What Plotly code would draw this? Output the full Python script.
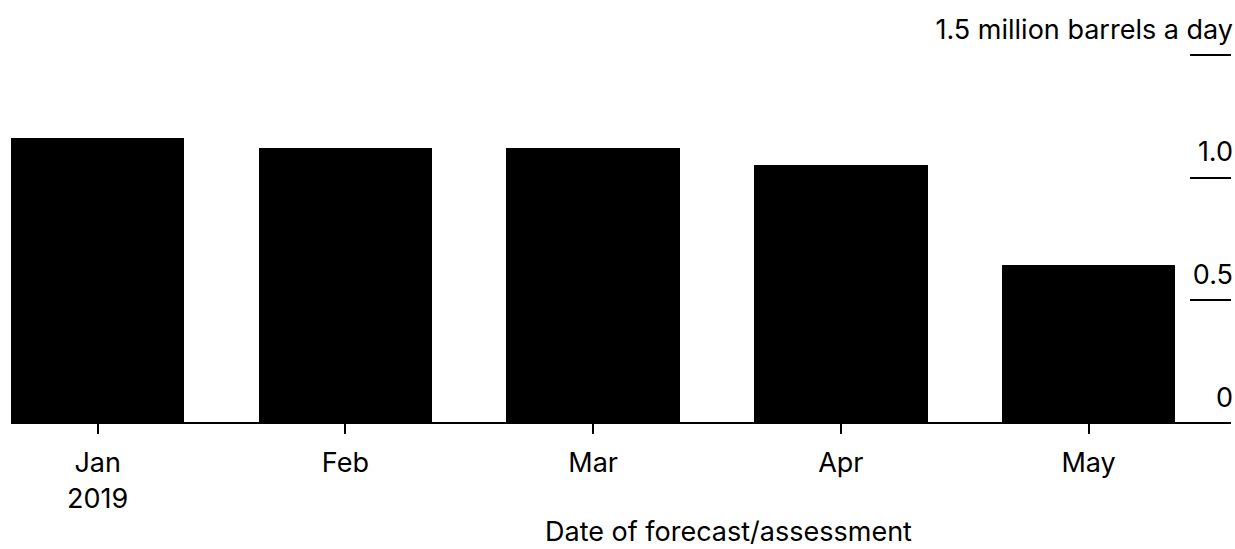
import plotly.graph_objects as go

categories = ["Jan<br>2019", "Feb", "Mar", "Apr", "May"]
values = [1.16, 1.12, 1.12, 1.05, 0.645]
y_tickvals = [0, 0.5, 1.0, 1.5]
y_ticktext = ["0", "0.5", "1.0", "1.5 million barrels a day"]
x_title = "Date of forecast/assessment"

FONT = "Inter"
FS = 27

# pixel geometry of plot area
TOP = 5
ZERO = 423
PX_PER_UNIT = (423 - 55) / 1.5
YMAX = 1.5 + (55 - TOP) / PX_PER_UNIT
PH = ZERO - TOP

fig = go.Figure()
fig.add_trace(go.Bar(
    x=list(range(len(categories))),
    y=values,
    width=0.7,
    marker=dict(color="#000000", line=dict(width=0)),
    hoverinfo="skip",
))

fig.update_layout(
    width=1235, height=549,
    margin=dict(l=11, r=4, t=TOP, b=549 - ZERO),
    paper_bgcolor="white", plot_bgcolor="white",
    showlegend=False,
    font=dict(family=FONT, size=FS, color="#000000"),
    bargap=0,
)

fig.update_xaxes(
    range=[-0.35, 4.575],
    tickmode="array",
    tickvals=list(range(len(categories))),
    ticktext=categories,
    ticks="outside", ticklen=10, tickwidth=1.5, tickcolor="#000000",
    ticklabelstandoff=6,
    ticklabeloverflow="allow",
    automargin=False,
    showline=False, showgrid=False, zeroline=False,
    tickfont=dict(family=FONT, size=FS, color="#000000"),
)

fig.update_yaxes(
    range=[0, YMAX],
    side="right",
    tickmode="array",
    tickvals=y_tickvals,
    ticktext=y_ticktext,
    ticks="inside", ticklen=41, tickwidth=2, tickcolor="#000000",
    ticklabelposition="inside top",
    ticklabelshift=-6,
    ticklabelstandoff=-5,
    ticklabeloverflow="allow",
    automargin=False,
    showgrid=False, showline=False,
    zeroline=True, zerolinecolor="#000000", zerolinewidth=2,
    tickfont=dict(family=FONT, size=FS, color="#000000"),
)

fig.add_annotation(
    text=x_title,
    xref="paper", yref="paper",
    x=(728.5 - 11) / 1220, y=(ZERO - 532) / PH,
    xanchor="center", yanchor="middle",
    showarrow=False,
    font=dict(family=FONT, size=FS, color="#000000"),
)

fig.write_html("out.html")
